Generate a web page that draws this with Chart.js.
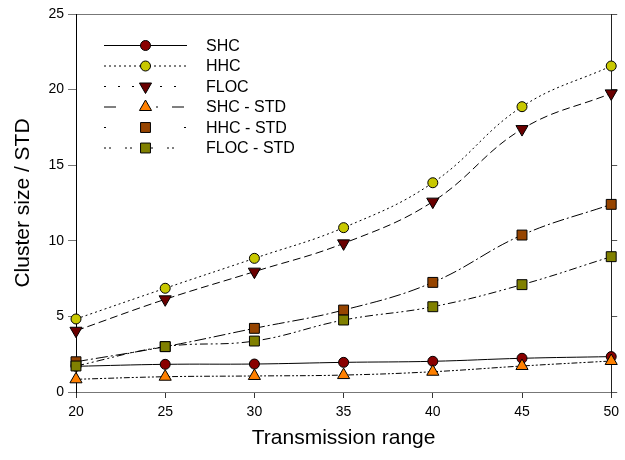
<!DOCTYPE html>
<html>
<head>
<meta charset="utf-8">
<title>Cluster size / STD</title>
<script src="https://cdn.jsdelivr.net/npm/chart.js@4.4.1/dist/chart.umd.min.js"></script>
<style>
    body { margin: 0; background: #fff; }
    #wrap { width: 625px; height: 460px; }
</style>
</head>
<body>
<div id="wrap"><canvas id="clusterChart" width="625" height="460"></canvas></div>
<script>
// Transmission range values on the x axis
const ranges = [20, 25, 30, 35, 40, 45, 50];

// Mean cluster size per algorithm
const shc = [1.70, 1.83, 1.85, 1.96, 2.03, 2.23, 2.34];
const hhc = [4.83, 6.86, 8.84, 10.87, 13.84, 18.87, 21.56];
const floc = [4.05, 6.13, 7.96, 9.83, 12.59, 17.39, 19.75];

// Standard deviation per algorithm
const shcStd = [0.84, 1.01, 1.06, 1.12, 1.34, 1.72, 2.05];
const hhcStd = [2.00, 3.00, 4.21, 5.42, 7.25, 10.38, 12.41];
const flocStd = [1.72, 3.00, 3.37, 4.76, 5.64, 7.10, 8.95];

const yTicks = [0, 5, 10, 15, 20, 25];

function toPoints(values) {
    return values.map((v, i) => ({ x: ranges[i], y: v }));
}

function series(label, values, opts) {
    return Object.assign({
        label: label,
        data: toPoints(values),
        borderColor: '#000',
        borderWidth: 1,
        pointBorderColor: '#000',
        pointBorderWidth: 1,
        pointRadius: 5,
        pointHoverRadius: 5,
        tension: 0.4,
        clip: false,
        fill: false
    }, opts);
}

const datasets = [
    series('SHC', shc, { pointStyle: 'circle', pointBackgroundColor: '#8a0000', borderDash: [], order: 6 }),
    series('HHC', hhc, { pointStyle: 'circle', pointBackgroundColor: '#c8c800', borderDash: [2, 3], order: 5 }),
    series('FLOC', floc, { pointStyle: 'triangle', pointRotation: 180, pointRadius: 7, pointBackgroundColor: '#6a0000', borderDash: [8, 4], legendDash: [2, 12], order: 4 }),
    series('SHC - STD', shcStd, { pointStyle: 'triangle', pointRadius: 7, pointBackgroundColor: '#ff8000', borderDash: [6, 2, 2, 2, 2, 2], legendDash: [12, 40, 2, 14], order: 3 }),
    series('HHC - STD', hhcStd, { pointStyle: 'rect', pointRadius: 7, pointBackgroundColor: '#964400', borderDash: [12, 3, 2, 3], legendDash: [2, 38], order: 2 }),
    series('FLOC - STD', flocStd, { pointStyle: 'rect', pointRadius: 7, pointBackgroundColor: '#808000', borderDash: [8, 3, 2, 3, 2, 3], legendDash: [2, 3, 2, 14], order: 1 })
];

function drawMarker(ctx, ds, x, y) {
    const r = ds.pointRadius;
    if (ds.pointStyle === 'circle') {
        ctx.arc(x, y, r, 0, Math.PI * 2);
    } else if (ds.pointStyle === 'rect') {
        const s = r * Math.SQRT1_2;
        ctx.rect(x - s, y - s, 2 * s, 2 * s);
    } else {
        const dir = ds.pointRotation ? 1 : -1;
        const h = r * 0.866;
        ctx.moveTo(x, y + dir * r);
        ctx.lineTo(x - h, y - dir * r / 2);
        ctx.lineTo(x + h, y - dir * r / 2);
        ctx.closePath();
    }
}

// Legend drawn inside the plot: line sample with the marker in the middle
const sampleLegend = {
    id: 'sampleLegend',
    afterDraw(chart) {
        const ctx = chart.ctx;
        const x0 = 104, x1 = 187, tx = 206;
        const top = 45.5, step = 20.5;
        ctx.save();
        chart.data.datasets.forEach((ds, i) => {
            const y = top + i * step;
            ctx.beginPath();
            ctx.setLineDash(ds.legendDash || ds.borderDash || []);
            ctx.lineWidth = 1;
            ctx.strokeStyle = '#000';
            ctx.moveTo(x0, y);
            ctx.lineTo(x1, y);
            ctx.stroke();
            ctx.setLineDash([]);
            ctx.fillStyle = ds.pointBackgroundColor;
            ctx.beginPath();
            drawMarker(ctx, ds, (x0 + x1) / 2, y);
            ctx.fill();
            ctx.stroke();
            ctx.fillStyle = '#000';
            ctx.font = '16px "Liberation Sans", Arial, sans-serif';
            ctx.textBaseline = 'middle';
            ctx.textAlign = 'left';
            ctx.fillText(ds.label, tx, y + 1);
        });
        ctx.restore();
    }
};

const tickFont = { family: '"Liberation Sans", Arial, sans-serif', size: 14 };
const titleFont = { family: '"Liberation Sans", Arial, sans-serif', size: 21 };

new Chart(document.getElementById('clusterChart'), {
    type: 'line',
    data: { datasets: datasets },
    options: {
        responsive: false,
        animation: false,
        events: [],
        layout: { padding: 0 },
        plugins: {
            legend: { display: false },
            tooltip: { enabled: false }
        },
        scales: {
            x: {
                type: 'linear',
                position: 'bottom',
                min: 20,
                max: 50,
                afterFit: s => { s.height = 68; },
                ticks: { stepSize: 5, font: tickFont, color: '#000', padding: 6, maxRotation: 0 },
                grid: { drawOnChartArea: false, drawTicks: true, tickLength: 6, color: '#333' },
                border: { display: true, color: '#777', width: 1 },
                title: { display: true, text: 'Transmission range', font: titleFont, color: '#000', padding: { top: 0, bottom: 9 } }
            },
            xTop: {
                type: 'linear',
                position: 'top',
                min: 20,
                max: 50,
                afterFit: s => { s.height = 14; },
                ticks: { display: false },
                grid: { display: false },
                border: { display: true, color: '#777', width: 1 }
            },
            y: {
                type: 'linear',
                position: 'left',
                min: 0,
                max: 25,
                afterFit: s => { s.width = 76; },
                afterBuildTicks: s => { s.ticks = yTicks.map(v => ({ value: v })); },
                ticks: { font: tickFont, color: '#000', padding: 4 },
                grid: { drawOnChartArea: false, drawTicks: true, tickLength: 8, color: '#777' },
                border: { display: true, color: '#000', width: 1 },
                title: { display: true, text: 'Cluster size / STD', font: titleFont, color: '#000', padding: { top: 11, bottom: 0 } }
            },
            yRight: {
                type: 'linear',
                position: 'right',
                min: 0,
                max: 25,
                afterFit: s => { s.width = 9; },
                afterBuildTicks: s => { s.ticks = yTicks.map(v => ({ value: v })); },
                ticks: { display: false },
                grid: { drawOnChartArea: false, drawTicks: true, tickLength: 6, color: '#555' },
                border: { display: true, color: '#222', width: 1 }
            }
        }
    },
    plugins: [sampleLegend]
});
</script>
</body>
</html>
